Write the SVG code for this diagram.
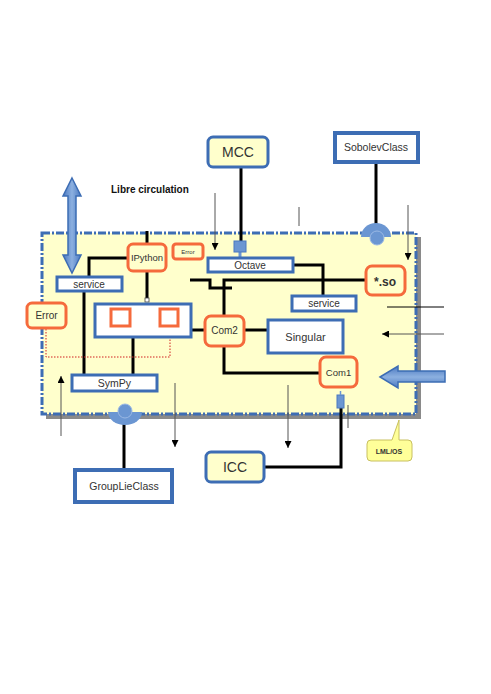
<svg xmlns="http://www.w3.org/2000/svg" width="491" height="694" viewBox="0 0 491 694">
<defs>
<style>
.wb{fill:#ffffff;stroke:#3d6db4;stroke-width:3}
.yb{fill:#ffffcc;stroke:#3d6db4;stroke-width:3}
.ob{fill:#ffffff;stroke:#f56a3c;stroke-width:3}
.oy{fill:#ffffcc;stroke:#f56a3c;stroke-width:3}
.t{font-family:"Liberation Sans",Arial,sans-serif;fill:#333;text-anchor:middle}
.k{fill:none;stroke:#000;stroke-width:3}
.th{fill:none;stroke:#555;stroke-width:1}
.bl{fill:#6b96d2;stroke:#3d6db4;stroke-width:1}
</style>
<linearGradient id="ga" x1="0" y1="0" x2="1" y2="0">
<stop offset="0" stop-color="#4a78c0"/><stop offset="0.5" stop-color="#8cb0e0"/><stop offset="1" stop-color="#4a78c0"/>
</linearGradient>
<linearGradient id="gb" x1="0" y1="0" x2="0" y2="1">
<stop offset="0" stop-color="#4a78c0"/><stop offset="0.5" stop-color="#8cb0e0"/><stop offset="1" stop-color="#4a78c0"/>
</linearGradient>
<marker id="ah" viewBox="0 0 10 10" refX="10" refY="5" markerWidth="7" markerHeight="7" orient="auto" markerUnits="userSpaceOnUse">
<path d="M0,0 L10,5 L0,10 Z" fill="#000"/>
</marker>
</defs>

<!-- main area -->
<g id="area">
<rect x="46" y="237" width="375" height="182" fill="#8a8a8a"/>
<rect x="42" y="233" width="374" height="181" fill="#ffffcc" stroke="#3d6db4" stroke-width="3" stroke-dasharray="8,2,2,2"/>
</g>

<g id="connectors">
<!-- MCC to Octave -->
<line class="k" x1="241" y1="167" x2="241" y2="242"/>
<line x1="240" y1="252" x2="240" y2="258" stroke="#6b96d2" stroke-width="3"/>
<!-- Sobolev -->
<line class="k" x1="376" y1="162" x2="376" y2="224"/>
<!-- GroupLie -->
<line class="k" x1="124" y1="420" x2="124" y2="469"/>
<!-- ICC to Com1 -->
<polyline class="k" points="264,467 341,467 341,407"/>
<!-- IPython -->
<line class="k" x1="147" y1="231" x2="147" y2="244"/>
<line class="k" x1="147" y1="271" x2="147" y2="299"/>
<polyline class="k" points="128,258 89,258 89,277"/>
<line class="k" x1="84" y1="292" x2="84" y2="375"/>
<line class="k" x1="133" y1="338" x2="133" y2="375"/>
<line class="k" x1="130" y1="317" x2="160" y2="317"/>
<line class="k" x1="191" y1="330" x2="205" y2="330"/>
<line class="k" x1="244" y1="330" x2="270" y2="330"/>
<polyline class="k" points="224,316 224,280 366,280"/>
<polyline class="k" points="190,280 210,280 210,288 232,288"/>
<polyline class="k" points="224,346 224,373 320,373"/>
<polyline class="k" points="293,265 323,265 323,296"/>
<!-- red dotted -->
<polyline points="46,329 46,357 170,357 170,326" fill="none" stroke="#d02020" stroke-width="1" stroke-dasharray="1.5,1.5"/>
<!-- thin arrows/lines -->
<line class="th" x1="215" y1="193" x2="215" y2="250" marker-end="url(#ah)"/>
<line class="th" x1="299" y1="207" x2="299" y2="226"/>
<line class="th" x1="408" y1="205" x2="408" y2="260" marker-end="url(#ah)"/>
<line x1="387" y1="307" x2="444" y2="307" stroke="#000" stroke-width="1"/>
<line class="th" x1="444" y1="334" x2="382" y2="334" marker-end="url(#ah)"/>
<line class="th" x1="61" y1="436" x2="61" y2="376" marker-end="url(#ah)"/>
<line class="th" x1="175" y1="383" x2="175" y2="447" marker-end="url(#ah)"/>
<line class="th" x1="288" y1="385" x2="288" y2="448" marker-end="url(#ah)"/>
<line class="th" x1="348" y1="405" x2="348" y2="428"/>
</g>

<!-- sockets -->
<g id="socketTop">
<path d="M361,237 A15,14 0 0 1 391,237 Z" fill="#6b96d2"/>
<circle cx="377" cy="238" r="7" fill="#6b96d2" stroke="#9ab8e4" stroke-width="1"/>
</g>
<g id="socketBottom">
<path d="M108,412 A17,13 0 0 0 142,412 Z" fill="#6b96d2"/>
<circle cx="125" cy="411" r="7" fill="#6b96d2" stroke="#9ab8e4" stroke-width="1"/>
</g>
<g id="portOctave"><rect x="234" y="241" width="12" height="11" fill="#6b96d2" stroke="#4a78c0" stroke-width="1"/></g>
<g id="portCom1">
<rect x="337" y="395" width="7" height="13" fill="#6b96d2" stroke="#4a78c0" stroke-width="1"/>
<line x1="340.5" y1="391" x2="340.5" y2="395" stroke="#6b96d2" stroke-width="1.5"/>
</g>
<g id="portIPy"><rect x="145" y="298" width="4" height="4" fill="#fff" stroke="#444" stroke-width="0.8"/></g>

<!-- arrows -->
<g id="doubleArrow">
<polygon points="72,178 81,196 76,196 76,255 81,255 72,273 63,255 68,255 68,196 63,196" fill="url(#ga)" stroke="#3d6db4" stroke-width="1.5"/>
</g>
<g id="bigArrow">
<polygon points="380,377 398,366 398,371 445,371 445,382 398,382 398,388" fill="url(#gb)" stroke="#3d6db4" stroke-width="1.5"/>
</g>

<g id="MCC"><rect class="yb" x="208" y="137" width="60" height="30" rx="5"/><text class="t" x="238" y="157" font-size="14">MCC</text></g>
<g id="SobolevClass"><rect x="335" y="133" width="83" height="29" fill="#fff" stroke="#3d6db4" stroke-width="4"/><text class="t" x="376" y="151" font-size="10.5" fill="#444">SobolevClass</text></g>
<g id="GroupLieClass"><rect x="75" y="470" width="97" height="32" fill="#fff" stroke="#3d6db4" stroke-width="4"/><text class="t" x="124" y="490" font-size="10.5" fill="#444">GroupLieClass</text></g>
<g id="ICC"><rect class="yb" x="206" y="452" width="58" height="30" rx="5"/><text class="t" x="235" y="472" font-size="14">ICC</text></g>
<g id="LMLOS">
<path d="M371,440 L392,440 L399,420 L399,440 L408,440 Q412,440 412,444 L412,457 Q412,461 408,461 L371,461 Q367,461 367,457 L367,444 Q367,440 371,440 Z" fill="#ffff99" stroke="#c8c060" stroke-width="1"/>
<text class="t" x="389" y="454" font-size="7" font-weight="bold">LML/OS</text>
</g>
<g id="libre"><text x="111" y="193" font-family="Liberation Sans,Arial,sans-serif" font-size="10" font-weight="bold" fill="#111">Libre circulation</text></g>

<g id="Error"><rect class="oy" x="27" y="303" width="39" height="25" rx="5"/><text class="t" x="46.5" y="319" font-size="10">Error</text></g>
<g id="ErrorSmall"><rect class="oy" x="173" y="244" width="30" height="15" rx="3"/><text class="t" x="188" y="254" font-size="6">Error</text></g>
<g id="IPython"><rect class="oy" x="128" y="244" width="38" height="27" rx="5"/><text class="t" x="147" y="261" font-size="9.5">IPython</text></g>
<g id="service1"><rect class="wb" x="57" y="277" width="65" height="14"/><text class="t" x="89" y="288" font-size="10">service</text></g>
<g id="Octave"><rect class="wb" x="208" y="258" width="85" height="14"/><text class="t" x="250" y="269" font-size="10">Octave</text></g>
<g id="service2"><rect class="wb" x="292" y="296" width="64" height="15"/><text class="t" x="324" y="307" font-size="10">service</text></g>
<g id="so"><rect class="oy" x="366" y="266" width="39" height="29" rx="6"/><text class="t" x="385" y="286" font-size="12" font-weight="bold">*.so</text></g>
<g id="midbox">
<rect class="wb" x="95" y="304" width="96" height="33"/>
<rect class="ob" x="111" y="309" width="19" height="17"/>
<rect class="ob" x="160" y="309" width="18" height="17"/>
</g>
<g id="Com2"><rect class="oy" x="205" y="316" width="39" height="30" rx="6"/><text class="t" x="224.5" y="334" font-size="10">Com2</text></g>
<g id="Singular"><rect class="wb" x="268" y="320" width="75" height="33"/><text class="t" x="305.5" y="341" font-size="11">Singular</text></g>
<g id="Com1"><rect class="oy" x="320" y="357" width="37" height="30" rx="6"/><text class="t" x="338.5" y="376" font-size="9.5">Com1</text></g>
<g id="SymPy"><rect class="wb" x="72" y="375" width="85" height="16"/><text class="t" x="114.5" y="387" font-size="10.5">SymPy</text></g>
</svg>
